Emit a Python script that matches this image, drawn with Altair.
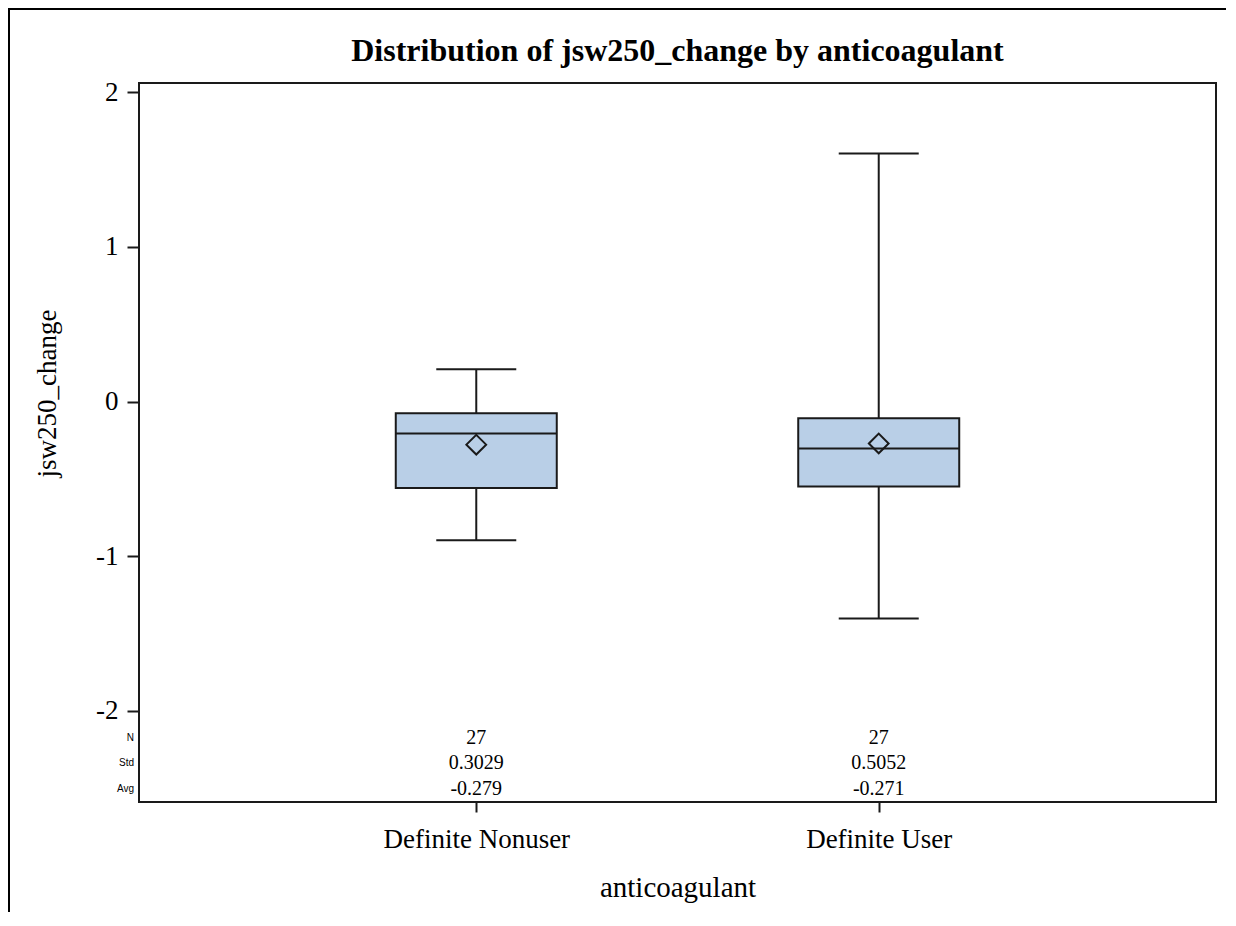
import altair as alt
import pandas as pd

categories = ["Definite Nonuser", "Definite User"]
whisker_low = [-0.898, -1.403]
q1 = [-0.559, -0.550]
median = [-0.207, -0.304]
q3 = [-0.076, -0.108]
whisker_high = [0.209, 1.605]
avg = [-0.279, -0.271]
n_obs = [27, 27]
std = [0.3029, 0.5052]
stat_labels = ["N", "Std", "Avg"]
title_text = "Distribution of jsw250_change by anticoagulant"

df = pd.DataFrame({
    "anticoagulant": categories,
    "low": whisker_low, "q1": q1, "median": median, "q3": q3,
    "high": whisker_high, "avg": avg, "n": n_obs, "std": std,
})

SERIF = "Liberation Serif"
INK = "#1a1a1a"
BOX_FILL = "#b9cfe7"

x = alt.X("anticoagulant:N",
          scale=alt.Scale(type="point", padding=0.838, domain=categories),
          axis=alt.Axis(title="anticoagulant", labelAngle=0, labelFont=SERIF,
                        labelFontSize=27, labelColor="black", labelPadding=14,
                        labelLimit=0,
                        titleFont=SERIF, titleFontSize=29, titleFontWeight="normal",
                        titleColor="black", titlePadding=21, tickSize=10,
                        tickWidth=2, tickColor=INK, domain=False))
yscale = alt.Scale(domain=[-2.591, 2.061], nice=False, zero=False)
y_axis = alt.Axis(title="jsw250_change", values=[-2, -1, 0, 1, 2],
                  labelExpr="datum.value < 0 ? '-' + abs(datum.value) : '' + datum.value",
                  labelFont=SERIF, labelFontSize=27, labelColor="black",
                  labelPadding=9, tickSize=12, tickWidth=2, tickColor=INK,
                  domain=False, grid=False, titleFont=SERIF, titleFontSize=27,
                  titleFontWeight="normal", titleColor="black",
                  titleX=-92, titleY=310, titleAngle=270, titleAlign="center",
                  titleBaseline="middle")

base = alt.Chart(df).transform_calculate(
    std_label="format(datum.std, '.4f')",
    avg_label="replace(format(datum.avg, '.3f'), '\u2212', '-')",
)

whiskers = base.mark_rule(color=INK, strokeWidth=2).encode(
    x=x, y=alt.Y("low:Q", scale=yscale, axis=y_axis), y2="high:Q")
box = base.mark_bar(size=161, fill=BOX_FILL, stroke=INK, strokeWidth=2).encode(
    x=x, y=alt.Y("q1:Q", scale=yscale), y2="q3:Q")
med = base.mark_tick(size=161, thickness=2, color=INK, opacity=1).encode(
    x=x, y=alt.Y("median:Q", scale=yscale))
cap_low = base.mark_tick(size=80, thickness=2, color=INK, opacity=1).encode(
    x=x, y=alt.Y("low:Q", scale=yscale))
cap_high = base.mark_tick(size=80, thickness=2, color=INK, opacity=1).encode(
    x=x, y=alt.Y("high:Q", scale=yscale))
mean_pt = base.mark_point(shape="diamond", size=390, filled=False, stroke=INK,
                          strokeWidth=2, opacity=1).encode(
    x=x, y=alt.Y("avg:Q", scale=yscale))

txt_n = base.mark_text(font=SERIF, fontSize=20, color="black", baseline="middle").encode(
    x=x, y=alt.value(655), text=alt.Text("n:Q", format="d"))
txt_std = base.mark_text(font=SERIF, fontSize=20, color="black", baseline="middle").encode(
    x=x, y=alt.value(680), text="std_label:N")
txt_avg = base.mark_text(font=SERIF, fontSize=20, color="black", baseline="middle").encode(
    x=x, y=alt.value(706), text="avg_label:N")

one = pd.DataFrame({"k": [0]})
lab_n = alt.Chart(one).mark_text(font="Liberation Sans", fontSize=10, color="black",
                                 align="right", baseline="middle").encode(
    x=alt.value(-5), y=alt.value(655), text=alt.value(stat_labels[0]))
lab_std = alt.Chart(one).mark_text(font="Liberation Sans", fontSize=10, color="black",
                                   align="right", baseline="middle").encode(
    x=alt.value(-5), y=alt.value(680), text=alt.value(stat_labels[1]))
lab_avg = alt.Chart(one).mark_text(font="Liberation Sans", fontSize=10, color="black",
                                   align="right", baseline="middle").encode(
    x=alt.value(-5), y=alt.value(706), text=alt.value(stat_labels[2]))

title = alt.Chart(one).mark_text(font=SERIF, fontSize=32, fontWeight="bold", color="black",
                                 align="center", baseline="alphabetic").encode(
    x=alt.value(538.5), y=alt.value(-22), text=alt.value(title_text))

border_left = alt.Chart(one).mark_rule(color="black", strokeWidth=2).encode(
    x=alt.value(-130), y=alt.value(-75), y2=alt.value(860))
border_top = alt.Chart(one).mark_rule(color="black", strokeWidth=2).encode(
    x=alt.value(-131), x2=alt.value(1100), y=alt.value(-74))

chart = alt.layer(
    whiskers, box, med, cap_low, cap_high, mean_pt,
    txt_n, txt_std, txt_avg, lab_n, lab_std, lab_avg, title,
    border_left, border_top
).properties(
    width=1077, height=719,
    autosize=alt.AutoSizeParams(type="none"),
    padding={"left": 131, "top": 75, "right": 10, "bottom": 110},
    background="white",
).configure_view(stroke=INK, strokeWidth=2)

chart.save("out.html", embed_options={"renderer": "svg", "actions": False})
